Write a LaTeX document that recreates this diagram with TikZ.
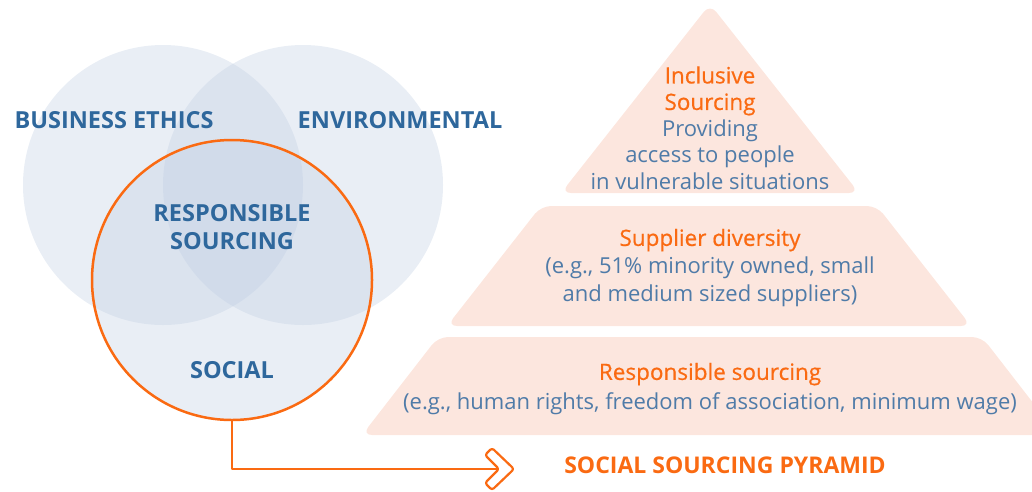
\documentclass[tikz,border=0pt]{standalone}
\usepackage{fontspec}
\setmainfont{Open Sans}
\newfontfamily\medfont{Open Sans}[FakeBold=0.6]
\definecolor{vblue}{HTML}{2E679C}
\definecolor{tblue}{HTML}{4F7BA8}
\definecolor{sorange}{HTML}{FA6A12}
\definecolor{spink}{HTML}{FCE6DE}
\definecolor{vfill}{RGB}{192,206,226}
\newcommand{\ohead}[1]{\textcolor{sorange}{\medfont\fontsize{22.5}{26}\selectfont #1}}
\tikzset{
  venn/.style={circle, minimum size=280pt, inner sep=0pt, fill=vfill, fill opacity=0.35},
  vlabel/.style={text=vblue, font=\fontsize{23.5}{28}\selectfont\bfseries, align=center, inner sep=0pt},
  band/.style={fill=spink, rounded corners=10pt},
  ptext/.style={text=tblue, font=\fontsize{22}{26.5}\selectfont, align=center, inner sep=0pt},
  link/.style={draw=sorange, line width=2.5pt, line join=round},
}
\begin{document}
\begin{tikzpicture}[x=1pt,y=-1pt]
\useasboundingbox (0,0) rectangle (1032,491);
\begin{scope}
\clip (0,0) rectangle (1032,491);
% pyramid
\path[band] (710,4) -- (859,193) -- (561,193) -- cycle;
\path[band] (541,206) -- (877,206) -- (971,326) -- (447,326) -- cycle;
\path[band] (438,337) -- (982,337) -- (1058,435) -- (362,435) -- cycle;
\end{scope}
% venn
\node[venn] (ethics) at (163,185) {};
\node[venn] (env) at (303,185) {};
\node[venn] (social) at (232,280) {};
\draw[sorange, line width=2.5pt] (social.center) circle (140pt);
\node[vlabel] (lethics) at (114,120) {BUSINESS ETHICS};
\node[vlabel] (lenv) at (400,120) {ENVIRONMENTAL};
\node[vlabel] (lresp) at (232,227) {RESPONSIBLE\\SOURCING};
\node[vlabel] (lsoc) at (232,370) {SOCIAL};
% pyramid texts
\node[ptext] (t1) at (710,128) {\ohead{Inclusive}\\\ohead{Sourcing}\\Providing\\access to people\\in vulnerable situations};
\node[ptext, font=\fontsize{22}{28}\selectfont] (t2) at (710,268) {\ohead{Supplier diversity}\\(e.g., 51\% minority owned, small\\and medium sized suppliers)};
\node[ptext, font=\fontsize{22}{30}\selectfont] (t3) at (710,389) {\ohead{Responsible sourcing}\\(e.g., human rights, freedom of association, minimum wage)};
\node[text=sorange, font=\fontsize{23}{26}\selectfont\bfseries, inner sep=0pt] (title) at (725,465) {SOCIAL SOURCING PYRAMID};
% connector
\coordinate (chevin) at (499,469);
\draw[link] (social.south) |- (chevin);
\draw[link, line width=2.2pt, rounded corners=2.5pt] (chevin) -- (485,455) -- (492,448) -- (514,469) -- (492,490) -- (485,483) -- cycle;
\end{tikzpicture}
\end{document}
